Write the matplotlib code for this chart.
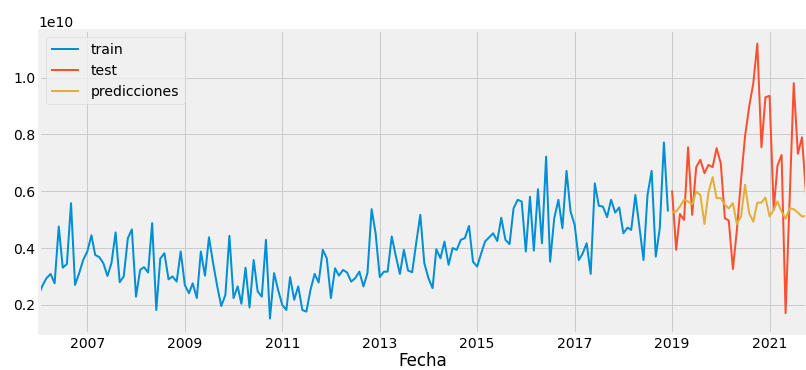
import matplotlib
matplotlib.use("Agg")
import matplotlib.pyplot as plt
import matplotlib.dates as mdates
import pandas as pd

plt.style.use("fivethirtyeight")

# Monthly series (values in units of 1e9)
train_vals = [
    2.35, 2.70, 2.94, 3.09, 2.76, 4.76, 3.31, 3.44, 5.58, 2.70, 3.12, 3.58,
    3.88, 4.45, 3.76, 3.68, 3.47, 3.02, 3.47, 4.55, 2.80, 3.00, 4.35, 4.66,
    2.29, 3.23, 3.33, 3.14, 4.88, 1.82, 3.63, 3.82, 2.90, 3.00, 2.82, 3.88,
    2.70, 2.41, 2.76, 2.24, 3.88, 3.03, 4.38, 3.47, 2.65, 1.96, 2.35, 4.43,
    2.24, 2.65, 2.04, 3.31, 1.91, 3.58, 2.47, 2.29, 4.29, 1.52, 3.12, 2.53,
    2.00, 1.82, 2.98, 2.18, 2.65, 1.82, 1.76, 2.53, 3.09, 2.79, 3.94, 3.64,
    2.24, 3.29, 3.03, 3.23, 3.14, 2.82, 2.94, 3.17, 2.65, 3.12, 5.37, 4.52,
    2.98, 3.17, 3.17, 4.41, 3.73, 3.09, 3.94, 3.21, 3.15, 4.17, 5.17, 3.47,
    2.94, 2.59, 3.96, 3.64, 4.23, 3.41, 4.00, 3.94, 4.29, 4.35, 4.78, 3.52,
    3.35, 3.82, 4.23, 4.38, 4.52, 4.25, 5.07, 4.29, 4.14, 5.40, 5.70, 5.64,
    3.88, 5.81, 3.91, 6.07, 4.17, 7.22, 3.52, 5.05, 5.70, 4.70, 6.72, 5.29,
    4.82, 3.58, 3.80, 4.17, 3.09, 6.28, 5.49, 5.46, 5.09, 5.70, 5.25, 5.43,
    4.52, 4.72, 4.64, 5.87, 4.76, 3.58, 5.87, 6.72, 3.70, 4.70, 7.72, 5.29,
]
test_vals = [
    6.03, 3.94, 5.20, 4.99, 7.55, 5.17, 6.85, 7.11, 6.64, 6.93, 6.85, 7.52,
    6.99, 5.05, 4.97, 3.26, 4.64, 6.40, 7.93, 8.98, 9.81, 11.20, 7.55, 9.31,
    9.36, 5.35, 6.90, 7.28, 1.71, 5.80, 9.81, 7.32, 7.90, 5.90,
]
pred_vals = [
    5.25, 5.29, 5.46, 5.70, 5.64, 5.54, 5.99, 5.87, 4.85, 5.96, 6.50, 5.76,
    5.76, 5.52, 5.40, 5.58, 4.85, 5.11, 6.23, 5.23, 4.93, 5.60, 5.60, 5.78,
    5.11, 5.35, 5.64, 5.29, 5.03, 5.40, 5.37, 5.25, 5.11, 5.13,
]
tick_years = [2007, 2009, 2011, 2013, 2015, 2017, 2019, 2021]

fechas = pd.date_range("2006-01-01", periods=len(train_vals) + len(test_vals), freq="MS")
f_train = fechas[:len(train_vals)]
f_test = fechas[len(train_vals):]

scale = 1e9
train = [v * scale for v in train_vals]
test = [v * scale for v in test_vals]
pred = [v * scale for v in pred_vals]

fig = plt.figure(figsize=(806 / 72, 370 / 72), dpi=72, facecolor="white")
ax = fig.add_axes([0.0479, 0.10, 1 - 0.0479, 0.819])

ax.plot(f_train, train, lw=2, label="train")
ax.plot(f_test, test, lw=2, label="test")
ax.plot(f_test, pred, lw=2, label="predicciones")

ax.set_xlim(fechas[0], fechas[-1])
ax.set_ylim(1.01e9, 11.68e9)
ax.set_yticks([2e9, 4e9, 6e9, 8e9, 10e9])
ax.set_xticks([pd.Timestamp(f"{y}-01-01") for y in tick_years])
ax.xaxis.set_major_formatter(mdates.DateFormatter("%Y"))
ax.set_xlabel("Fecha", labelpad=1.5)
ax.legend(loc="upper left")

fig.savefig("out.png", dpi=72, facecolor="white")
